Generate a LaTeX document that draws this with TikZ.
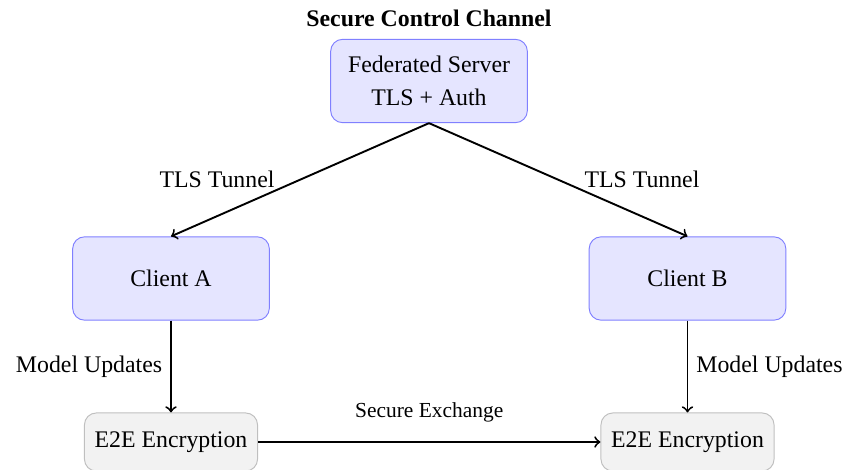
\documentclass[tikz,border=0pt]{standalone}
\usepackage{fontspec}
\setmainfont{LiberationSerif}[Extension=.ttf, UprightFont=*-Regular, BoldFont=*-Bold,
  ItalicFont=*-Italic, BoldItalicFont=*-BoldItalic]
\begin{document}
\begin{tikzpicture}[x=0.42pt, y=-0.42pt,
  hub/.style={draw=blue!50, fill=blue!10, rounded corners=5pt, align=center,
    minimum width=82.6pt, minimum height=35pt},
  crypt/.style={draw=gray!50, fill=gray!10, rounded corners=5pt,
    minimum width=72.7pt, minimum height=24.4pt},
  link/.style={->, thick},
  tag/.style={font=\normalsize}
]
\useasboundingbox (0,0) rectangle (845,470);

% Server and clients
\node[hub, label={[font=\bfseries, label distance=1.5pt]above:Secure Control Channel}]
  (server) at (429,81) {Federated Server\\[2pt]TLS + Auth};
\node[hub] (clientA) at (171,278.5) {Client A};
\node[hub] (clientB) at (687.5,278.5) {Client B};

% End-to-end encryption stages
\node[crypt] (encA) at (171,442) {E2E Encryption};
\node[crypt] (encB) at (687.5,442) {E2E Encryption};

% Control-channel tunnels
\draw[link] (server.south) -- node[tag, midway, left, xshift=-7pt] {TLS Tunnel} (clientA.north);
\draw[link] (server.south) -- node[tag, midway, right, xshift=7.3pt] {TLS Tunnel} (clientB.north);

% Local updates into encryption
\draw[link] (clientA.south) -- node[tag, midway, left] {Model Updates} (encA.north);
\draw[link] (clientB.south) -- node[tag, midway, right] {Model Updates} (encB.north);

% Peer exchange
\draw[link] (encA.east) -- node[font=\small, midway, above=4.5pt] {Secure Exchange} (encB.west);
\end{tikzpicture}
\end{document}
